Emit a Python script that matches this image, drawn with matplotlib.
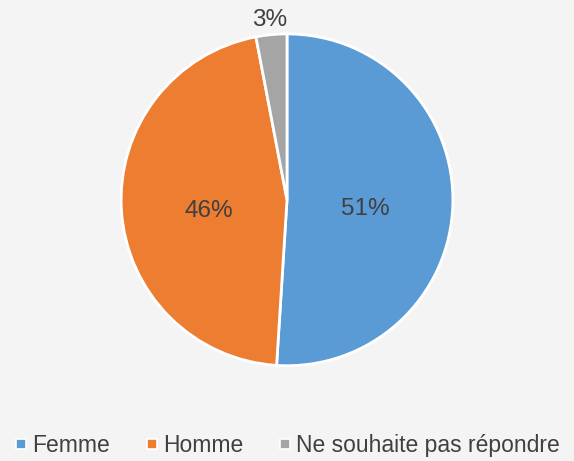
import matplotlib.pyplot as plt
from matplotlib.lines import Line2D
import numpy as np

categories = ['Femme', 'Homme', 'Ne souhaite pas répondre']
values = [51, 46, 3]
colors = ['#5B9BD5', '#ED7D31', '#A5A5A5']

plt.rcParams['font.family'] = ['Liberation Sans', 'DejaVu Sans']

fig = plt.figure(figsize=(5.74, 4.61), dpi=100)
fig.patch.set_facecolor('#f4f4f4')
ax = fig.add_axes([0, 0, 1, 1])
ax.set_facecolor('#f4f4f4')

wedges, texts, autotexts = ax.pie(
    values, colors=colors, startangle=90, counterclock=False,
    autopct='%1.0f%%', pctdistance=0.47,
    wedgeprops=dict(edgecolor='white', linewidth=2),
    textprops=dict(color='#404040', fontsize=17.5))

# étiquettes : petite part à l'extérieur, les autres un peu plus bas
for w, t, v in zip(wedges, autotexts, values):
    ang = np.deg2rad((w.theta1 + w.theta2) / 2)
    if v < 10:
        t.set_position((1.09 * np.cos(ang), 1.09 * np.sin(ang)))
    else:
        x, y = t.get_position()
        t.set_position((x, y - 0.04))

ax.set_aspect('equal')
ax.set_xlim(-1.73, 1.73)
ax.set_ylim(-1.57, 1.2)

handles = [Line2D([], [], marker='s', linestyle='', color=c, markersize=6.5,
                  markeredgecolor='white', markeredgewidth=1.2)
           for c in colors]
leg = ax.legend(handles, categories, loc='lower center', ncol=3,
                bbox_to_anchor=(0.5, -0.012), frameon=False, fontsize=16.5,
                handletextpad=0.2, columnspacing=1.5, handlelength=0.6,
                labelcolor='#404040', borderaxespad=0.0)

plt.savefig('out.png', dpi=100, facecolor=fig.get_facecolor())
